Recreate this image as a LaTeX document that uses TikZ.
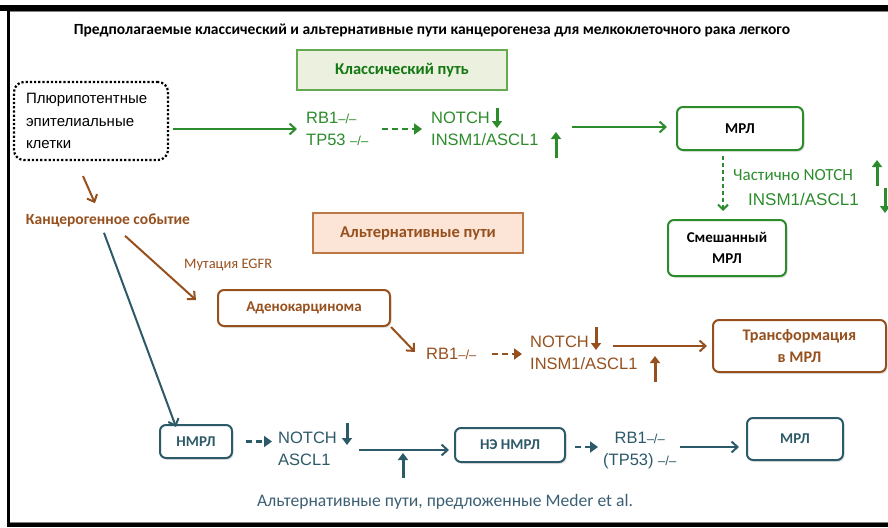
\documentclass[tikz,border=0pt]{standalone}
\usepackage{fontspec}
\setmainfont{Liberation Sans}
\newfontfamily\calibri{Carlito}
\usetikzlibrary{arrows.meta,shadows}
\definecolor{gcol}{RGB}{44,140,44}
\definecolor{gdark}{RGB}{20,120,20}
\definecolor{gfill}{RGB}{235,241,222}
\definecolor{gbord}{RGB}{100,170,80}
\definecolor{bcol}{RGB}{150,80,30}
\definecolor{bfill}{RGB}{252,228,214}
\definecolor{bbord}{RGB}{190,120,70}
\definecolor{tcol}{RGB}{45,90,105}
\definecolor{capcol}{RGB}{60,95,115}
\tikzset{
  rbox/.style={draw, rounded corners=6pt, line width=2pt, fill=white, align=center, inner sep=0pt,
    font=\calibri\bfseries\fontsize{15}{21}\selectfont,
    drop shadow={opacity=0.2, shadow xshift=1.5pt, shadow yshift=-2pt}},
  hdrbox/.style={draw, line width=1.2pt, align=center, inner sep=0pt,
    font=\calibri\bfseries\fontsize{16.5}{20}\selectfont},
  gene/.style={align=left, inner sep=0pt, font=\fontsize{16.5}{22}\selectfont},
  conn/.style={line width=2pt, -{Straight Barb[length=6pt,width=11pt,line width=2pt]}},
  dconn/.style={line width=2.5pt, dash pattern=on 6pt off 4pt, -{Triangle[length=8pt,width=11pt]}},
  updn/.style={line width=3pt, -{Triangle[length=7pt,width=10pt]}},
  bluebox/.style={rbox, draw=tcol, text=tcol, font=\calibri\bfseries\fontsize{15}{17}\selectfont},
}
\newcommand{\mm}{{\fontsize{13}{13}\selectfont –/–}}
\begin{document}
\begin{tikzpicture}[x=1pt,y=-1pt]
\useasboundingbox (0,0) rectangle (888,527);
% frame
\fill[black] (0,5) rectangle (888,11);
\fill[black] (7,5) rectangle (10,527);
\fill[black] (7,523) rectangle (888,527);
\draw[gray, line width=0.8pt] (10,11.5) -- (888,11.5);
\draw[gray, line width=0.8pt] (10,522.5) -- (888,522.5);

% title
\node[font=\calibri\bfseries\fontsize{15.5}{17}\selectfont] (title) at (432,30)
  {Предполагаемые классический и альтернативные пути канцерогенеза для мелкоклеточного рака легкого};

% header boxes
\node[hdrbox, draw=gbord, fill=gfill, text=gdark, minimum width=210, minimum height=40] (klass) at (402,70) {Классический путь};
\node[hdrbox, draw=bbord, fill=bfill, text=bcol, minimum width=210, minimum height=40] (alt) at (418,233) {Альтернативные пути};

% start box
\node[draw, dotted, line width=2.2pt, rounded corners=10pt, minimum width=154, minimum height=78,
  text width=130, align=left, inner sep=0pt, font=\fontsize{15}{22.5}\selectfont] (pluri) at (91,121)
  {Плюрипотентные\\эпителиальные\\клетки};

% classical path
\node[gene, text=gcol, anchor=west] (rbtp) at (306,129) {RB1\mm\\TP53 \mm};
\node[gene, text=gcol, anchor=west] (notch1) at (431,129) {NOTCH\\INSM1/ASCL1};
\node[rbox, draw=gcol, text=black, minimum width=126, minimum height=43] (mrl1) at (740,128.5) {МРЛ};
\node[rbox, draw=gcol, text=black, minimum width=118, minimum height=56] (mixed) at (727,248) {Смешанный\\МРЛ};
\node[anchor=west, inner sep=0pt, text=gcol, font=\calibri\fontsize{17}{19}\selectfont] (part) at (733,175) {Частично NOTCH};
\node[anchor=west, inner sep=0pt, text=gcol, font=\fontsize{17}{19}\selectfont] (insm) at (748,199) {INSM1/ASCL1};
\coordinate (n1out) at ([xshift=33pt,yshift=2pt]notch1.east);

\draw[conn, gcol] ([xshift=4pt]pluri.east |- rbtp.west) -- ([xshift=-9pt]rbtp.west);
\draw[dconn, gcol] ([xshift=14pt]rbtp.east) -- ([xshift=-9pt]notch1.west |- rbtp.east);
\draw[conn, gcol] (n1out) -- ([xshift=-9pt]mrl1.west |- n1out);
\coordinate (n1a) at (497,108); \coordinate (n1b) at (497,128);
\draw[updn, gcol] (n1a) -- (n1b);
\coordinate (n1c) at (556,158); \coordinate (n1d) at (556,132);
\draw[updn, gcol] (n1c) -- (n1d);
\draw[gcol, line width=2pt, dash pattern=on 4pt off 3pt, -{Straight Barb[length=5pt,width=10pt,line width=2pt]}]
  ([xshift=-17pt,yshift=-5pt]mrl1.south) -- ([xshift=-4pt,yshift=8pt]mixed.north);
\coordinate (p1) at (877,186); \coordinate (p2) at (877,160);
\draw[updn, gcol] (p1) -- (p2);
\coordinate (p3) at (885,188); \coordinate (p4) at (885,213);
\draw[updn, gcol] (p3) -- (p4);

% carcinogenic event
\node[text=bcol, inner sep=0pt, font=\calibri\bfseries\fontsize{15.5}{18}\selectfont] (kanc) at (108,220) {Канцерогенное событие};
\draw[conn, bcol] ([xshift=-8pt,yshift=-15pt]pluri.south) -- ([xshift=-13pt,yshift=10pt]kanc.north);

% EGFR / adeno path
\node[anchor=west, inner sep=0pt, text=bcol, font=\calibri\fontsize{14.5}{16}\selectfont] (egfr) at (184,265) {Мутация EGFR};
\node[rbox, draw=bcol, text=bcol, minimum width=172, minimum height=36] (adeno) at (304,308) {Аденокарцинома};
\node[gene, text=bcol, anchor=west] (rb2) at (426,354) {RB1\mm};
\node[gene, text=bcol, anchor=west] (notch2) at (530,353) {NOTCH\\INSM1/ASCL1};
\node[rbox, draw=bcol, text=bcol, minimum width=173, minimum height=52, font=\calibri\bfseries\fontsize{16.2}{22}\selectfont] (trans) at (799.5,346) {Трансформация\\в МРЛ};

\draw[conn, bcol] ([xshift=17pt,yshift=-9pt]kanc.south) -- ([xshift=-21pt,yshift=8pt]adeno.west);
\draw[conn, bcol] (adeno.south east) -- ([xshift=-11pt,yshift=2pt]rb2.west);
\draw[dconn, bcol] ([xshift=15pt]rb2.east) -- ([xshift=-8pt]notch2.west |- rb2.east);
\draw[conn, bcol] ([xshift=-25pt,yshift=7pt]notch2.east) -- ([xshift=-5pt]trans.west);
\coordinate (n2a) at (596,327); \coordinate (n2b) at (596,350);
\draw[updn, bcol] (n2a) -- (n2b);
\coordinate (n2c) at (655,382); \coordinate (n2d) at (655,356);
\draw[updn, bcol] (n2c) -- (n2d);

% NSCLC path
\node[bluebox, minimum width=72, minimum height=33] (nmrl) at (196,441.5) {НМРЛ};
\node[gene, text=tcol, anchor=west] (notch3) at (278,448.5) {NOTCH\\ASCL1};
\node[bluebox, minimum width=110, minimum height=34] (ne) at (510,445) {НЭ НМРЛ};
\node[gene, text=tcol, anchor=west, align=center] (rb3) at (603,451) {RB1\mm\\(TP53) \mm};
\node[bluebox, minimum width=96, minimum height=42] (mrl3) at (795,439) {МРЛ};
\coordinate (nein) at ([xshift=-5pt,yshift=-5pt]ne.west);
\coordinate (neout) at ([xshift=9pt,yshift=-2pt]ne.east);

\draw[conn, tcol] ([xshift=-4pt,yshift=-6pt]kanc.south) -- ([xshift=-20pt,yshift=-3pt]nmrl.north);
\draw[dconn, tcol] ([xshift=13pt]nmrl.east) -- ([xshift=-6pt]notch3.west |- nmrl.east);
\draw[conn, tcol] ([xshift=22pt]notch3.east |- nein) -- (nein);
\coordinate (n3a) at (347,423); \coordinate (n3b) at (347,445);
\draw[updn, tcol] (n3a) -- (n3b);
\coordinate (n3c) at (403,478); \coordinate (n3d) at (403,453);
\draw[updn, tcol] (n3c) -- (n3d);
\draw[dconn, tcol] (neout) -- ([xshift=-5pt]rb3.west |- neout);
\draw[conn, tcol] ([xshift=4pt]rb3.east |- neout) -- ([xshift=-7pt]mrl3.west |- neout);

% caption
\node[text=capcol, inner sep=0pt, font=\calibri\fontsize{17.6}{19}\selectfont] (cap) at (445,502) {Альтернативные пути, предложенные Meder et al.};
\end{tikzpicture}
\end{document}
